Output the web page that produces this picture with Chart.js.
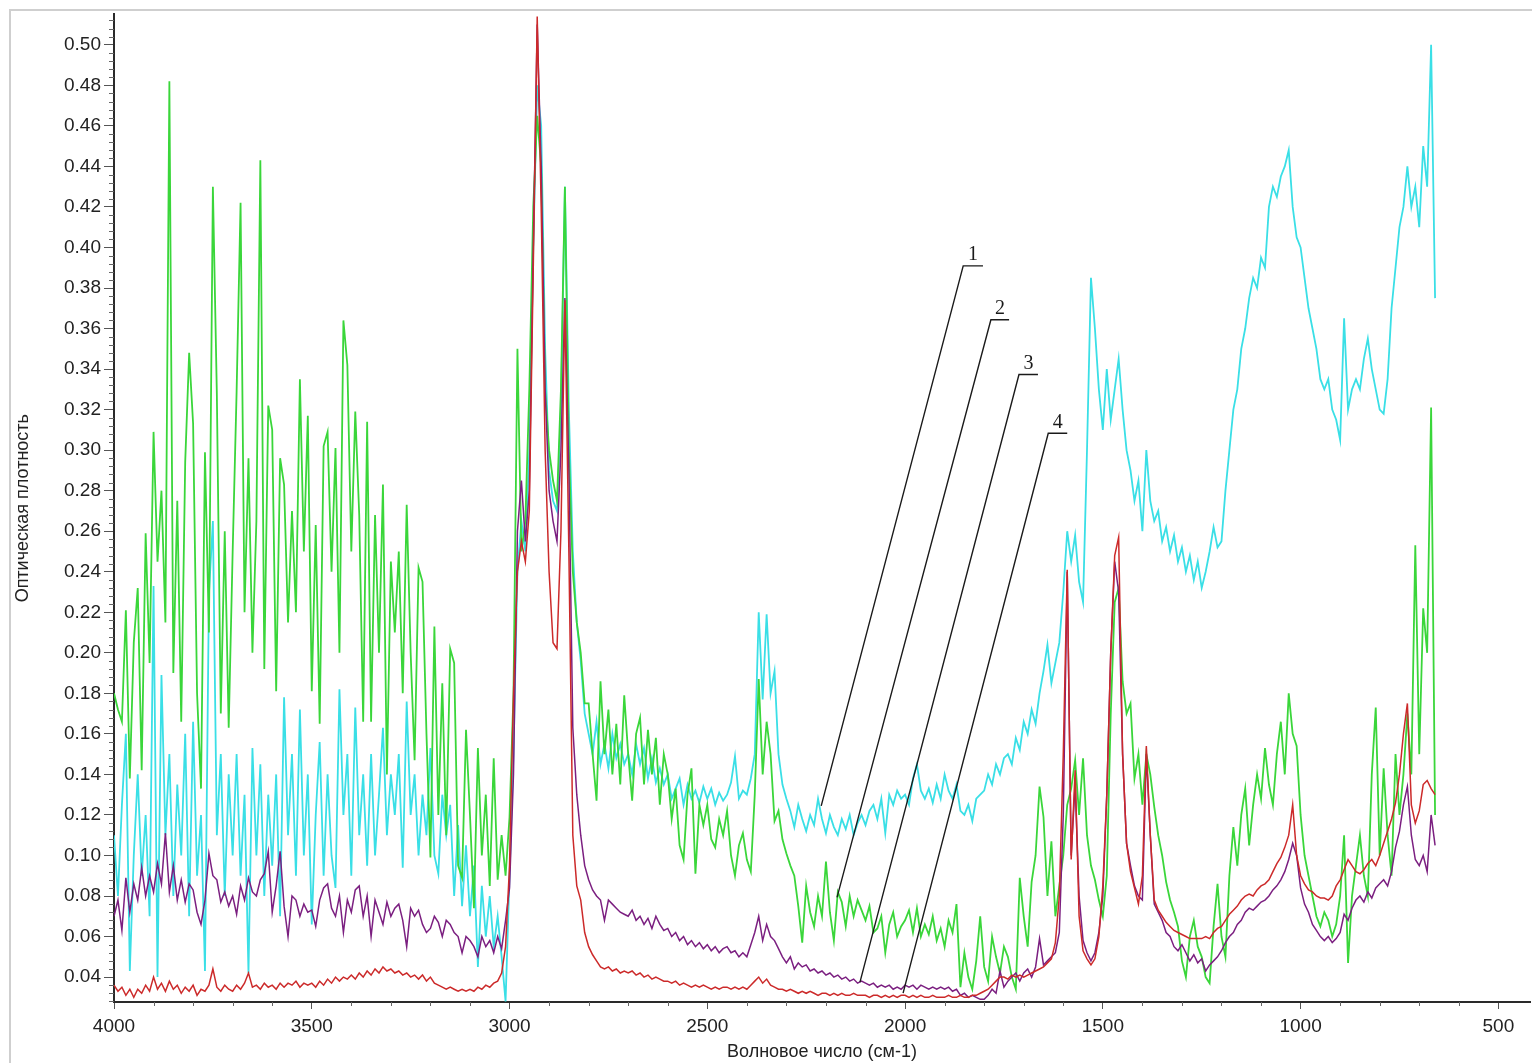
<!DOCTYPE html>
<html lang="ru">
<head>
<meta charset="utf-8">
<title>ИК-спектры</title>
<script src="https://cdn.jsdelivr.net/npm/chart.js@4.4.1/dist/chart.umd.min.js"></script>
<style>
    html, body { margin: 0; padding: 0; background: #ffffff; }
    #chart-wrap { width: 1532px; height: 1063px; }
</style>
</head>
<body>
<div id="chart-wrap"><canvas id="spectra-chart" width="1532" height="1063"></canvas></div>
<script>
// =========================================================
// DATA
// =========================================================

// sampling grid: 4000 -> 660 cm-1, one value every 10 cm-1
const WAVENUMBER_START = 4000;
const WAVENUMBER_STEP = 10;

// axis ticks
const xTickValues = [4000, 3500, 3000, 2500, 2000, 1500, 1000, 500];
const yTickValues = [0.04, 0.06, 0.08, 0.10, 0.12, 0.14, 0.16, 0.18, 0.20, 0.22, 0.24, 0.26,
    0.28, 0.30, 0.32, 0.34, 0.36, 0.38, 0.40, 0.42, 0.44, 0.46, 0.48, 0.50];

// curve 1 (one row = 100 cm-1)
const spectrum1 = [
    0.110, 0.080, 0.125, 0.160, 0.043, 0.100, 0.140, 0.090, 0.120, 0.070, // 4000
    0.233, 0.040, 0.189, 0.110, 0.150, 0.080, 0.135, 0.100, 0.160, 0.070, // 3900
    0.166, 0.090, 0.120, 0.043, 0.229, 0.265, 0.110, 0.150, 0.080, 0.140, // 3800
    0.100, 0.150, 0.090, 0.130, 0.042, 0.153, 0.100, 0.145, 0.080, 0.130, // 3700
    0.095, 0.140, 0.070, 0.178, 0.110, 0.150, 0.090, 0.172, 0.100, 0.140, // 3600
    0.066, 0.120, 0.156, 0.090, 0.140, 0.100, 0.084, 0.182, 0.120, 0.150, // 3500
    0.090, 0.173, 0.110, 0.140, 0.095, 0.150, 0.100, 0.130, 0.163, 0.110, // 3400
    0.140, 0.120, 0.150, 0.094, 0.176, 0.120, 0.140, 0.100, 0.130, 0.110, // 3300
    0.153, 0.100, 0.091, 0.130, 0.110, 0.125, 0.080, 0.115, 0.075, 0.105, // 3200
    0.070, 0.095, 0.045, 0.085, 0.060, 0.080, 0.055, 0.070, 0.050, 0.028, // 3100
    0.090, 0.150, 0.240, 0.265, 0.250, 0.300, 0.400, 0.480, 0.460, 0.350, // 3000
    0.290, 0.275, 0.270, 0.320, 0.430, 0.320, 0.250, 0.215, 0.196, 0.170, // 2900
    0.160, 0.150, 0.166, 0.145, 0.155, 0.143, 0.160, 0.148, 0.155, 0.145, // 2800
    0.150, 0.140, 0.155, 0.145, 0.153, 0.138, 0.148, 0.136, 0.143, 0.135, // 2700
    0.140, 0.128, 0.133, 0.138, 0.125, 0.135, 0.128, 0.132, 0.126, 0.134, // 2600
    0.128, 0.133, 0.125, 0.131, 0.127, 0.130, 0.136, 0.149, 0.128, 0.132, // 2500
    0.130, 0.138, 0.150, 0.220, 0.177, 0.219, 0.180, 0.191, 0.150, 0.135, // 2400
    0.128, 0.122, 0.114, 0.125, 0.118, 0.112, 0.120, 0.115, 0.128, 0.118, // 2300
    0.111, 0.120, 0.114, 0.110, 0.118, 0.113, 0.120, 0.110, 0.116, 0.120, // 2200
    0.115, 0.122, 0.125, 0.118, 0.128, 0.111, 0.130, 0.125, 0.132, 0.128, // 2100
    0.130, 0.125, 0.138, 0.145, 0.132, 0.128, 0.133, 0.126, 0.135, 0.128, // 2000
    0.140, 0.132, 0.128, 0.135, 0.122, 0.120, 0.125, 0.117, 0.128, 0.130, // 1900
    0.132, 0.140, 0.135, 0.145, 0.140, 0.148, 0.150, 0.145, 0.158, 0.152, // 1800
    0.166, 0.160, 0.172, 0.165, 0.180, 0.191, 0.204, 0.185, 0.195, 0.205, // 1700
    0.230, 0.260, 0.245, 0.258, 0.235, 0.225, 0.300, 0.385, 0.360, 0.330, // 1600
    0.310, 0.340, 0.315, 0.330, 0.345, 0.320, 0.300, 0.290, 0.275, 0.285, // 1500
    0.260, 0.300, 0.275, 0.265, 0.270, 0.255, 0.262, 0.250, 0.258, 0.245, // 1400
    0.252, 0.240, 0.248, 0.236, 0.245, 0.232, 0.240, 0.250, 0.262, 0.252, // 1300
    0.255, 0.280, 0.300, 0.320, 0.330, 0.350, 0.360, 0.375, 0.385, 0.380, // 1200
    0.395, 0.390, 0.420, 0.430, 0.425, 0.435, 0.440, 0.448, 0.420, 0.405, // 1100
    0.400, 0.385, 0.370, 0.360, 0.350, 0.335, 0.330, 0.335, 0.320, 0.315, // 1000
    0.305, 0.365, 0.320, 0.330, 0.335, 0.330, 0.345, 0.355, 0.340, 0.330, // 900
    0.320, 0.318, 0.335, 0.370, 0.390, 0.410, 0.420, 0.440, 0.420, 0.430, // 800
    0.410, 0.450, 0.430, 0.500, 0.375                                     // 700
];

// curve 2
const spectrum2 = [
    0.180, 0.172, 0.166, 0.221, 0.138, 0.205, 0.232, 0.142, 0.259, 0.195, // 4000
    0.309, 0.245, 0.280, 0.215, 0.482, 0.190, 0.275, 0.166, 0.294, 0.348, // 3900
    0.313, 0.180, 0.133, 0.299, 0.210, 0.430, 0.328, 0.170, 0.260, 0.163, // 3800
    0.250, 0.329, 0.422, 0.220, 0.296, 0.200, 0.265, 0.443, 0.192, 0.322, // 3700
    0.310, 0.181, 0.296, 0.283, 0.215, 0.270, 0.220, 0.335, 0.250, 0.317, // 3600
    0.181, 0.263, 0.165, 0.302, 0.309, 0.240, 0.301, 0.200, 0.364, 0.342, // 3500
    0.250, 0.319, 0.268, 0.166, 0.314, 0.166, 0.268, 0.200, 0.283, 0.140, // 3400
    0.245, 0.210, 0.250, 0.180, 0.273, 0.200, 0.147, 0.242, 0.235, 0.160, // 3300
    0.099, 0.213, 0.120, 0.185, 0.110, 0.202, 0.195, 0.095, 0.089, 0.162, // 3200
    0.120, 0.074, 0.153, 0.100, 0.130, 0.085, 0.148, 0.088, 0.110, 0.090, // 3100
    0.119, 0.180, 0.350, 0.250, 0.265, 0.330, 0.420, 0.465, 0.440, 0.330, // 3000
    0.300, 0.285, 0.275, 0.330, 0.430, 0.300, 0.240, 0.215, 0.200, 0.175, // 2900
    0.175, 0.150, 0.127, 0.186, 0.150, 0.172, 0.140, 0.165, 0.135, 0.179, // 2800
    0.150, 0.127, 0.160, 0.168, 0.135, 0.162, 0.140, 0.158, 0.125, 0.150, // 2700
    0.140, 0.118, 0.133, 0.105, 0.098, 0.130, 0.143, 0.091, 0.125, 0.115, // 2600
    0.125, 0.108, 0.104, 0.118, 0.110, 0.122, 0.100, 0.090, 0.105, 0.111, // 2500
    0.098, 0.092, 0.130, 0.187, 0.140, 0.166, 0.150, 0.117, 0.122, 0.108, // 2400
    0.101, 0.095, 0.090, 0.075, 0.057, 0.085, 0.072, 0.065, 0.080, 0.070, // 2300
    0.097, 0.072, 0.058, 0.082, 0.077, 0.065, 0.080, 0.070, 0.078, 0.073, // 2200
    0.068, 0.075, 0.062, 0.064, 0.070, 0.052, 0.066, 0.072, 0.060, 0.065, // 2100
    0.068, 0.073, 0.062, 0.074, 0.060, 0.066, 0.061, 0.070, 0.058, 0.064, // 2000
    0.055, 0.068, 0.062, 0.076, 0.035, 0.052, 0.040, 0.034, 0.048, 0.070, // 1900
    0.045, 0.038, 0.060, 0.050, 0.042, 0.055, 0.050, 0.040, 0.034, 0.089, // 1800
    0.070, 0.055, 0.087, 0.100, 0.134, 0.119, 0.080, 0.107, 0.070, 0.085, // 1700
    0.100, 0.125, 0.133, 0.147, 0.120, 0.148, 0.110, 0.095, 0.088, 0.078, // 1600
    0.070, 0.090, 0.170, 0.225, 0.232, 0.186, 0.170, 0.175, 0.138, 0.150, // 1500
    0.125, 0.150, 0.140, 0.124, 0.110, 0.100, 0.087, 0.078, 0.072, 0.065, // 1400
    0.048, 0.040, 0.060, 0.068, 0.055, 0.050, 0.040, 0.037, 0.065, 0.086, // 1300
    0.060, 0.050, 0.090, 0.114, 0.095, 0.120, 0.133, 0.105, 0.125, 0.140, // 1200
    0.128, 0.153, 0.135, 0.125, 0.150, 0.166, 0.140, 0.180, 0.160, 0.154, // 1100
    0.120, 0.100, 0.090, 0.080, 0.070, 0.065, 0.072, 0.068, 0.060, 0.066, // 1000
    0.080, 0.110, 0.047, 0.080, 0.095, 0.110, 0.090, 0.080, 0.140, 0.173, // 900
    0.100, 0.143, 0.110, 0.090, 0.150, 0.120, 0.140, 0.170, 0.140, 0.253, // 800
    0.150, 0.222, 0.200, 0.321, 0.120                                     // 700
];

// curve 3
const spectrum3 = [
    0.070, 0.078, 0.063, 0.089, 0.072, 0.086, 0.078, 0.094, 0.080, 0.090, // 4000
    0.082, 0.096, 0.086, 0.111, 0.082, 0.095, 0.078, 0.088, 0.077, 0.086, // 3900
    0.083, 0.072, 0.066, 0.078, 0.101, 0.090, 0.088, 0.077, 0.082, 0.075, // 3800
    0.080, 0.071, 0.085, 0.078, 0.089, 0.082, 0.080, 0.088, 0.091, 0.102, // 3700
    0.072, 0.085, 0.102, 0.075, 0.060, 0.080, 0.078, 0.070, 0.076, 0.072, // 3600
    0.073, 0.065, 0.078, 0.084, 0.086, 0.074, 0.070, 0.080, 0.062, 0.078, // 3500
    0.072, 0.083, 0.085, 0.070, 0.080, 0.060, 0.078, 0.072, 0.066, 0.077, // 3400
    0.070, 0.074, 0.076, 0.068, 0.055, 0.074, 0.070, 0.073, 0.066, 0.062, // 3300
    0.064, 0.070, 0.067, 0.060, 0.068, 0.066, 0.062, 0.060, 0.052, 0.060, // 3200
    0.058, 0.055, 0.050, 0.060, 0.055, 0.058, 0.052, 0.060, 0.054, 0.068, // 3100
    0.084, 0.140, 0.260, 0.285, 0.255, 0.280, 0.400, 0.510, 0.440, 0.330, // 3000
    0.280, 0.265, 0.255, 0.300, 0.375, 0.290, 0.163, 0.130, 0.110, 0.095, // 2900
    0.088, 0.083, 0.080, 0.078, 0.068, 0.078, 0.076, 0.074, 0.072, 0.071, // 2800
    0.070, 0.073, 0.068, 0.070, 0.066, 0.069, 0.064, 0.070, 0.066, 0.063, // 2700
    0.064, 0.060, 0.062, 0.058, 0.060, 0.056, 0.058, 0.055, 0.057, 0.054, // 2600
    0.056, 0.053, 0.055, 0.052, 0.054, 0.055, 0.052, 0.053, 0.050, 0.052, // 2500
    0.050, 0.056, 0.062, 0.070, 0.058, 0.066, 0.060, 0.058, 0.054, 0.050, // 2400
    0.047, 0.050, 0.044, 0.047, 0.045, 0.046, 0.043, 0.044, 0.042, 0.043, // 2300
    0.041, 0.042, 0.040, 0.041, 0.039, 0.040, 0.038, 0.039, 0.037, 0.038, // 2200
    0.037, 0.036, 0.037, 0.035, 0.036, 0.035, 0.036, 0.034, 0.035, 0.034, // 2100
    0.036, 0.035, 0.036, 0.034, 0.036, 0.035, 0.034, 0.035, 0.034, 0.035, // 2000
    0.034, 0.035, 0.033, 0.034, 0.031, 0.032, 0.030, 0.031, 0.030, 0.029, // 1900
    0.029, 0.031, 0.034, 0.032, 0.043, 0.035, 0.038, 0.040, 0.042, 0.038, // 1800
    0.042, 0.044, 0.040, 0.045, 0.059, 0.046, 0.048, 0.050, 0.052, 0.062, // 1700
    0.120, 0.240, 0.100, 0.135, 0.080, 0.058, 0.052, 0.048, 0.052, 0.062, // 1600
    0.080, 0.130, 0.200, 0.245, 0.230, 0.150, 0.106, 0.095, 0.085, 0.080, // 1500
    0.078, 0.150, 0.110, 0.076, 0.072, 0.068, 0.062, 0.060, 0.055, 0.053, // 1400
    0.056, 0.052, 0.048, 0.051, 0.047, 0.049, 0.043, 0.046, 0.048, 0.050, // 1300
    0.053, 0.057, 0.060, 0.062, 0.066, 0.068, 0.072, 0.074, 0.073, 0.075, // 1200
    0.077, 0.078, 0.080, 0.083, 0.085, 0.088, 0.092, 0.098, 0.106, 0.100, // 1100
    0.084, 0.076, 0.072, 0.066, 0.063, 0.060, 0.058, 0.060, 0.057, 0.059, // 1000
    0.062, 0.071, 0.068, 0.074, 0.078, 0.080, 0.077, 0.082, 0.079, 0.084, // 900
    0.086, 0.088, 0.085, 0.092, 0.104, 0.112, 0.125, 0.134, 0.110, 0.098, // 800
    0.095, 0.100, 0.092, 0.120, 0.105                                     // 700
];

// curve 4
const spectrum4 = [
    0.036, 0.033, 0.035, 0.031, 0.034, 0.030, 0.034, 0.032, 0.036, 0.033, // 4000
    0.040, 0.034, 0.037, 0.033, 0.038, 0.034, 0.036, 0.032, 0.035, 0.033, // 3900
    0.036, 0.031, 0.034, 0.033, 0.036, 0.044, 0.035, 0.033, 0.036, 0.034, // 3800
    0.033, 0.036, 0.034, 0.037, 0.042, 0.035, 0.036, 0.034, 0.037, 0.035, // 3700
    0.036, 0.034, 0.037, 0.035, 0.037, 0.036, 0.038, 0.035, 0.037, 0.036, // 3600
    0.037, 0.035, 0.038, 0.036, 0.039, 0.037, 0.040, 0.038, 0.040, 0.039, // 3500
    0.041, 0.039, 0.042, 0.040, 0.043, 0.041, 0.044, 0.042, 0.045, 0.043, // 3400
    0.044, 0.042, 0.043, 0.041, 0.042, 0.040, 0.041, 0.039, 0.041, 0.038, // 3300
    0.040, 0.037, 0.036, 0.035, 0.034, 0.035, 0.034, 0.033, 0.034, 0.033, // 3200
    0.034, 0.033, 0.035, 0.034, 0.036, 0.035, 0.037, 0.038, 0.042, 0.055, // 3100
    0.095, 0.180, 0.240, 0.255, 0.245, 0.270, 0.390, 0.514, 0.420, 0.300, // 3000
    0.240, 0.205, 0.202, 0.260, 0.374, 0.250, 0.110, 0.085, 0.078, 0.062, // 2900
    0.055, 0.051, 0.048, 0.045, 0.044, 0.045, 0.043, 0.044, 0.042, 0.043, // 2800
    0.042, 0.043, 0.041, 0.042, 0.040, 0.041, 0.039, 0.040, 0.039, 0.038, // 2700
    0.038, 0.037, 0.038, 0.036, 0.037, 0.036, 0.035, 0.036, 0.035, 0.036, // 2600
    0.035, 0.034, 0.035, 0.034, 0.035, 0.035, 0.034, 0.035, 0.034, 0.035, // 2500
    0.034, 0.036, 0.038, 0.040, 0.037, 0.039, 0.036, 0.035, 0.034, 0.034, // 2400
    0.033, 0.034, 0.033, 0.032, 0.033, 0.032, 0.033, 0.032, 0.031, 0.032, // 2300
    0.032, 0.031, 0.032, 0.031, 0.032, 0.031, 0.031, 0.032, 0.031, 0.031, // 2200
    0.031, 0.030, 0.031, 0.031, 0.030, 0.031, 0.030, 0.031, 0.030, 0.031, // 2100
    0.031, 0.030, 0.031, 0.030, 0.031, 0.030, 0.030, 0.031, 0.030, 0.030, // 2000
    0.030, 0.031, 0.030, 0.030, 0.031, 0.030, 0.030, 0.031, 0.031, 0.032, // 1900
    0.033, 0.034, 0.036, 0.038, 0.040, 0.040, 0.039, 0.041, 0.040, 0.041, // 1800
    0.040, 0.041, 0.042, 0.043, 0.044, 0.045, 0.047, 0.049, 0.057, 0.080, // 1700
    0.150, 0.241, 0.098, 0.142, 0.070, 0.053, 0.049, 0.046, 0.049, 0.060, // 1600
    0.085, 0.130, 0.200, 0.248, 0.257, 0.150, 0.106, 0.092, 0.084, 0.076, // 1500
    0.090, 0.154, 0.110, 0.078, 0.073, 0.070, 0.067, 0.065, 0.063, 0.062, // 1400
    0.061, 0.060, 0.059, 0.059, 0.059, 0.059, 0.060, 0.059, 0.062, 0.064, // 1300
    0.065, 0.068, 0.071, 0.073, 0.075, 0.078, 0.080, 0.081, 0.080, 0.083, // 1200
    0.085, 0.086, 0.088, 0.092, 0.096, 0.099, 0.104, 0.110, 0.125, 0.100, // 1100
    0.090, 0.086, 0.083, 0.082, 0.080, 0.079, 0.079, 0.078, 0.080, 0.085, // 1000
    0.088, 0.093, 0.098, 0.095, 0.092, 0.091, 0.093, 0.096, 0.098, 0.095, // 900
    0.100, 0.106, 0.112, 0.118, 0.126, 0.140, 0.160, 0.175, 0.125, 0.116, // 800
    0.122, 0.135, 0.137, 0.133, 0.130                                     // 700
];

// leader lines for the curve numbers: [label, bottom, corner, end of shelf] in (cm-1, absorbance)
const curveLabels = [
    { text: "1", foot: [2212, 0.1245], knee: [1853, 0.3909], shelf: 1803 },
    { text: "2", foot: [2172, 0.0793], knee: [1783, 0.3643], shelf: 1737 },
    { text: "3", foot: [2114, 0.0375], knee: [1712, 0.3373], shelf: 1664 },
    { text: "4", foot: [2005, 0.0321], knee: [1638, 0.3083], shelf: 1590 }
];

// =========================================================
// HELPERS
// =========================================================

function toPoints(values) {
    return values.map(function (value, index) {
        return { x: WAVENUMBER_START - index * WAVENUMBER_STEP, y: value };
    });
}

function createSpectrumDataset(values, color, width, order) {
    return {
        data: toPoints(values),
        borderColor: color,
        borderWidth: width,
        pointRadius: 0,
        tension: 0,
        fill: false,
        order: order
    };
}

// =========================================================
// PLUGINS
// =========================================================

const framePlugin = {
    id: "frame",
    beforeDraw(chart) {
        const ctx = chart.ctx;
        ctx.save();
        ctx.fillStyle = "#ffffff";
        ctx.fillRect(0, 0, chart.width, chart.height);
        ctx.strokeStyle = "#cfcfcf";
        ctx.lineWidth = 2;
        ctx.strokeRect(10, 10, chart.width - 9, chart.height - 9);
        ctx.restore();
    }
};

const minorTicksPlugin = {
    id: "minorTicks",
    afterDraw(chart) {
        const ctx = chart.ctx;
        const xScale = chart.scales.x;
        const yScale = chart.scales.y;
        const area = chart.chartArea;

        ctx.save();
        ctx.strokeStyle = "#666666";
        ctx.lineWidth = 1;
        ctx.beginPath();

        for (let wave = 500; wave <= 4000; wave += 100) {
            if (wave % 500 === 0) {
                continue;
            }
            const x = Math.round(xScale.getPixelForValue(wave)) + 0.5;
            ctx.moveTo(x, area.bottom);
            ctx.lineTo(x, area.bottom + 4);
        }

        for (let step = 7; step <= 128; step++) {
            if (step % 5 === 0) {
                continue;
            }
            const y = Math.round(yScale.getPixelForValue(step * 0.004)) + 0.5;
            if (y < area.top || y > area.bottom) {
                continue;
            }
            ctx.moveTo(area.left - 5, y);
            ctx.lineTo(area.left, y);
        }

        ctx.stroke();
        ctx.restore();
    }
};

const curveLabelPlugin = {
    id: "curveLabels",
    afterDatasetsDraw(chart) {
        const ctx = chart.ctx;
        const xScale = chart.scales.x;
        const yScale = chart.scales.y;

        ctx.save();
        ctx.strokeStyle = "#1a1a1a";
        ctx.lineWidth = 1.4;
        ctx.fillStyle = "#1a1a1a";
        ctx.font = "20px 'Liberation Serif', 'Times New Roman', serif";
        ctx.textAlign = "center";
        ctx.textBaseline = "bottom";

        for (let labelIndex = 0; labelIndex < curveLabels.length; labelIndex++) {
            const label = curveLabels[labelIndex];

            const footX = xScale.getPixelForValue(label.foot[0]);
            const footY = yScale.getPixelForValue(label.foot[1]);
            const kneeX = xScale.getPixelForValue(label.knee[0]);
            const kneeY = yScale.getPixelForValue(label.knee[1]);
            const shelfX = xScale.getPixelForValue(label.shelf);

            ctx.beginPath();
            ctx.moveTo(footX, footY);
            ctx.lineTo(kneeX, kneeY);
            ctx.lineTo(shelfX, kneeY);
            ctx.stroke();

            ctx.fillText(label.text, (kneeX + shelfX) / 2, kneeY - 1);
        }

        ctx.restore();
    }
};

// =========================================================
// CHART
// =========================================================

const axisFont = { family: "'Liberation Sans', Arial, sans-serif", size: 19 };
const titleFont = { family: "'Liberation Sans', Arial, sans-serif", size: 18 };

new Chart(document.getElementById("spectra-chart"), {
    type: "line",
    data: {
        datasets: [
            createSpectrumDataset(spectrum1, "#3adfe6", 1.8, 3),
            createSpectrumDataset(spectrum2, "#3ad63a", 1.8, 2),
            createSpectrumDataset(spectrum3, "#7b1f80", 1.5, 1),
            createSpectrumDataset(spectrum4, "#cc2a2a", 1.5, 0)
        ]
    },
    options: {
        responsive: false,
        animation: false,
        devicePixelRatio: 1,
        layout: {
            padding: { top: 11, left: 10, right: 2, bottom: 0 }
        },
        plugins: {
            legend: { display: false },
            tooltip: { enabled: false }
        },
        scales: {
            x: {
                type: "linear",
                reverse: true,
                min: 420,
                max: 4000,
                afterBuildTicks: function (scale) {
                    scale.ticks = xTickValues.map(value => ({ value: value }));
                },
                afterFit: function (scale) {
                    scale.height = 61;
                },
                grid: {
                    drawOnChartArea: false,
                    drawTicks: true,
                    tickLength: 7,
                    tickColor: "#555555"
                },
                border: { display: true, color: "#2a2a2a", width: 2 },
                ticks: {
                    font: axisFont,
                    color: "#222222",
                    padding: 6,
                    maxRotation: 0,
                    callback: value => String(value)
                },
                title: {
                    display: true,
                    text: "Волновое число (см-1)",
                    font: titleFont,
                    color: "#222222",
                    padding: { top: 0, bottom: 0 }
                }
            },
            y: {
                type: "linear",
                min: 0.0277,
                max: 0.515,
                afterBuildTicks: function (scale) {
                    scale.ticks = yTickValues.map(value => ({ value: value }));
                },
                afterFit: function (scale) {
                    scale.width = 104;
                },
                grid: {
                    drawOnChartArea: false,
                    drawTicks: true,
                    tickLength: 10,
                    tickColor: "#555555"
                },
                border: { display: true, color: "#2a2a2a", width: 2 },
                ticks: {
                    font: axisFont,
                    color: "#222222",
                    padding: 3,
                    callback: value => value.toFixed(2)
                },
                title: {
                    display: true,
                    text: "Оптическая плотность",
                    font: titleFont,
                    color: "#222222",
                    padding: { top: 2, bottom: 0 }
                }
            }
        }
    },
    plugins: [framePlugin, minorTicksPlugin, curveLabelPlugin]
});
</script>
</body>
</html>
